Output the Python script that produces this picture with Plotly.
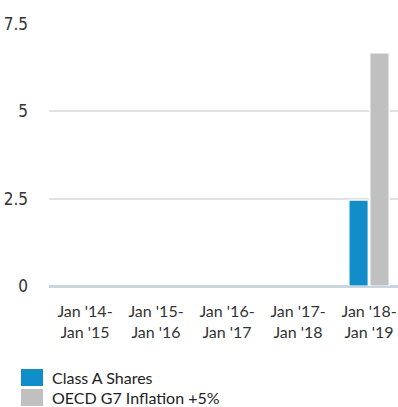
import plotly.graph_objects as go

# Period labels and annual values (%)
periods = ["Jan '14-<br>Jan '15", "Jan '15-<br>Jan '16", "Jan '16-<br>Jan '17",
           "Jan '17-<br>Jan '18", "Jan '18-<br>Jan '19"]
class_a = [0, 0, 0, 0, 2.46]
oecd_g7 = [0, 0, 0, 0, 6.67]
series_names = ["Class A Shares", "OECD G7 Inflation +5%"]
series_colors = ["#118dc8", "#c0c0c0"]
y_ticks = [0, 2.5, 5, 7.5]
y_tick_text = ["0", "2.5", "5", "7.5"]

fig = go.Figure()
for name, vals, col in zip(series_names, [class_a, oecd_g7], series_colors):
    # white outline only on bars with height, so the zero line stays unbroken
    outline = [1.2 if v else 0 for v in vals]
    fig.add_trace(go.Bar(
        x=periods, y=vals, name=name, marker_color=col,
        marker_line=dict(color="white", width=outline), showlegend=False,
    ))

# Hand-drawn legend block below the axis
legend_rows = [369, 389]
for (name, col), ytop in zip(zip(series_names, series_colors), legend_rows):
    fig.add_shape(type="rect", xref="paper", yref="paper",
                  x0=(21 - 49) / 349, x1=(43 - 49) / 349,
                  y0=(286 - ytop) / 262, y1=(286 - ytop - 17) / 262,
                  fillcolor=col, line_width=0)
    fig.add_annotation(text=name, xref="paper", yref="paper",
                       x=(50 - 49) / 349, y=(286 - ytop - 8.5) / 262,
                       xanchor="left", yanchor="middle", showarrow=False,
                       font=dict(family="Lato", size=16, color="#222"))

fig.update_layout(
    width=398, height=407,
    margin=dict(l=49, r=0, t=24, b=121),
    paper_bgcolor="white", plot_bgcolor="white",
    barmode="group", bargap=0.41, bargroupgap=0.08,
    xaxis=dict(
        range=[-0.507, 4.408], showgrid=False, zeroline=False, showline=False,
        ticks="", ticklabelstandoff=14,
        tickfont=dict(family="Lato", size=16, color="#333"),
    ),
    yaxis=dict(
        range=[0, 7.5], tickvals=y_ticks, ticktext=y_tick_text,
        showgrid=True, gridcolor="#e2e2e2", gridwidth=1.5,
        zeroline=True, zerolinecolor="#c9d5e0", zerolinewidth=2.5,
        showline=False, ticks="", ticklabelstandoff=20,
        tickfont=dict(family="DejaVu Sans Condensed, Roboto", size=17, color="#333"),
    ),
)

fig.write_html("out.html")
